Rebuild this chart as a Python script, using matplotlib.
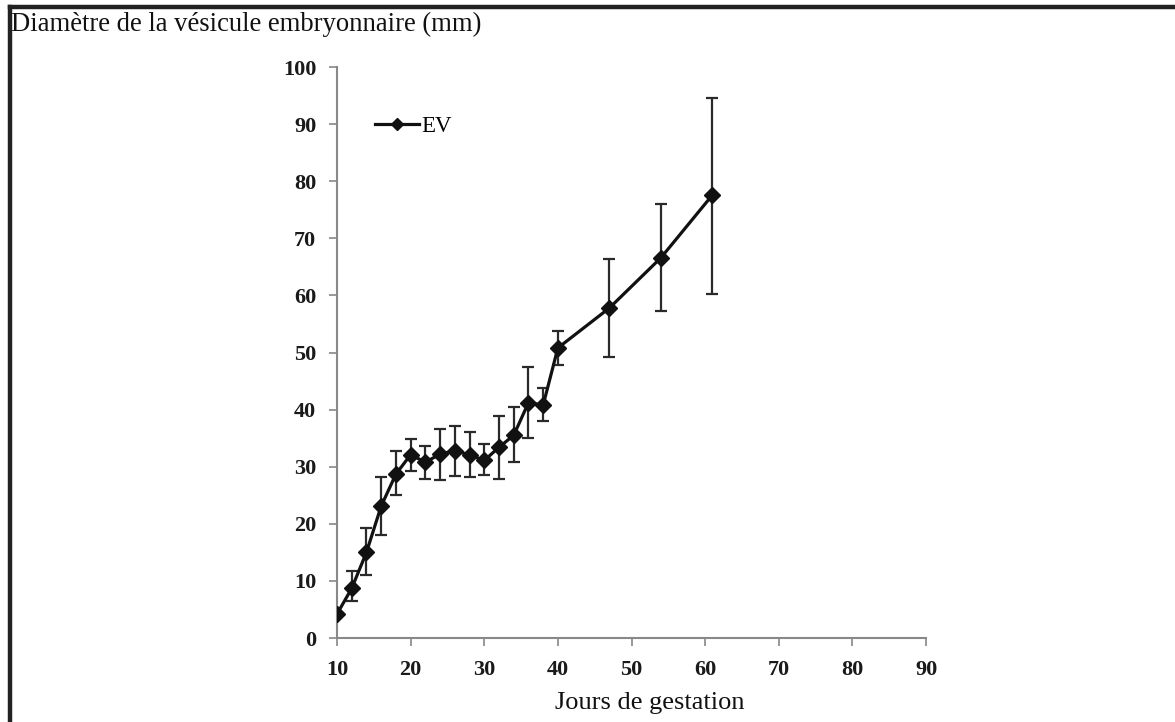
import numpy as np
import matplotlib
matplotlib.use("Agg")
import matplotlib.pyplot as plt
from matplotlib.lines import Line2D

# jours de gestation / diametre moyen / bornes des barres d'erreur
jours = [10, 12, 14, 16, 18, 20, 22, 24, 26, 28, 30, 32, 34, 36, 38, 40, 47, 54, 61]
diametre = [4.2, 8.7, 15.0, 23.1, 28.7, 32.1, 30.8, 32.2, 32.8, 32.1, 31.1, 33.4,
            35.5, 41.2, 40.8, 50.8, 57.8, 66.6, 77.6]
err_bas = [4.2, 6.5, 11.0, 18.1, 25.0, 29.3, 27.9, 27.7, 28.3, 28.2, 28.6, 27.9,
           30.8, 35.1, 38.0, 47.9, 49.3, 57.2, 60.3]
err_haut = [4.2, 11.8, 19.2, 28.2, 32.8, 34.9, 33.7, 36.6, 37.2, 36.1, 33.9, 38.9,
            40.5, 47.5, 43.7, 53.7, 66.3, 76.0, 94.6]

x_ticks = [10, 20, 30, 40, 50, 60, 70, 80, 90]
y_ticks = [0, 10, 20, 30, 40, 50, 60, 70, 80, 90, 100]

plt.rcParams["font.family"] = ["Liberation Serif", "DejaVu Serif"]

fig = plt.figure(figsize=(11.75, 7.22), dpi=100)
ax = fig.add_axes([0.2868, 0.1163, 0.5013, 0.7909])

y = np.array(diametre)
yerr = [y - np.array(err_bas), np.array(err_haut) - y]
ax.errorbar(jours, diametre, yerr=yerr, fmt="none", ecolor="#2a2a2a",
            elinewidth=1.6, capsize=4, capthick=1.6, zorder=2)
ax.plot(jours, diametre, color="#111111", linewidth=2.3, marker="D",
        markersize=8, zorder=3)

ax.set_xlim(10, 90)
ax.set_ylim(0, 100)
ax.set_xticks(x_ticks)
ax.set_yticks(y_ticks)
for side in ["top", "right"]:
    ax.spines[side].set_visible(False)
for side in ["left", "bottom"]:
    ax.spines[side].set_color("#888888")
    ax.spines[side].set_linewidth(1.5)
ax.tick_params(direction="out", length=6, width=1.2, color="#888888",
               labelsize=16, labelcolor="#1a1a1a")
ax.tick_params(axis="y", pad=9)
ax.tick_params(axis="x", pad=10)
for lab in ax.get_xticklabels() + ax.get_yticklabels():
    lab.set_fontweight("semibold")

handle = Line2D([], [], color="#111111", linewidth=2.3, marker="D", markersize=6)
ax.legend([handle], ["EV"], loc="upper left", bbox_to_anchor=(0.03, 0.95),
          frameon=False, fontsize=16.5, handlelength=1.9, handletextpad=0.1)

fig.text(0.0095, 0.966, "Diamètre de la vésicule embryonnaire (mm)",
         fontsize=19.2, va="center", ha="left", color="#111111")
fig.text(0.553, 0.027, "Jours de gestation", fontsize=19, va="center",
         ha="center", color="#111111")

# cadre noir en haut et a gauche
fig.add_artist(Line2D([0.0085, 1.0], [0.9903, 0.9903], transform=fig.transFigure,
                      color="#222222", linewidth=3.2))
fig.add_artist(Line2D([0.0085, 0.0085], [0.0, 0.9903], transform=fig.transFigure,
                      color="#222222", linewidth=3.2))

fig.savefig("out.png", dpi=100)
